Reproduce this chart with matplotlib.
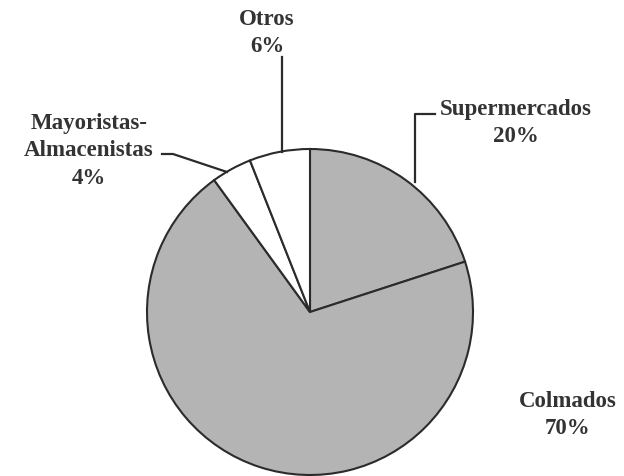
import matplotlib.pyplot as plt

# canales de venta y su participacion (%)
canales = ['Supermercados', 'Colmados', 'Mayoristas-\nAlmacenistas', 'Otros']
porcentajes = [20, 70, 4, 6]
colores = ['#b4b4b4', '#b4b4b4', '#ffffff', '#ffffff']

W, H = 624, 477
fig = plt.figure(figsize=(W / 100, H / 100), dpi=100)
ax = fig.add_axes([0, 0, 1, 1])

def py(y):
    # coordenada vertical medida desde arriba
    return H - y

ax.pie(porcentajes, colors=colores, startangle=90, counterclock=False,
       center=(310, py(313)), radius=163, frame=True,
       wedgeprops=dict(edgecolor='#2b2b2b', linewidth=1.5))
ax.set_xlim(0, W)
ax.set_ylim(0, H)
ax.set_aspect('equal')
ax.axis('off')

fuente = dict(family='Liberation Serif', fontweight='bold', fontsize=16.5,
              color='#333333', ha='center', va='center', linespacing=1.4)

ax.text(516, py(123), f'{canales[0]}\n{porcentajes[0]}%', **fuente)
ax.text(568, py(415), f'{canales[1]}\n{porcentajes[1]}%', **fuente)
ax.text(89, py(151), f'{canales[2]}\n{porcentajes[2]}%', **fuente)
ax.text(267, py(33), f'{canales[3]}\n{porcentajes[3]}%', **fuente)

# lineas guia
guia = dict(color='#2b2b2b', linewidth=1.6)
ax.plot([435, 415, 415], [py(115), py(115), py(183)], **guia)
ax.plot([162, 173, 227], [py(155), py(155), py(173)], **guia)
ax.plot([282, 282], [py(58), py(153)], **guia)

fig.savefig('out.png', dpi=100)
